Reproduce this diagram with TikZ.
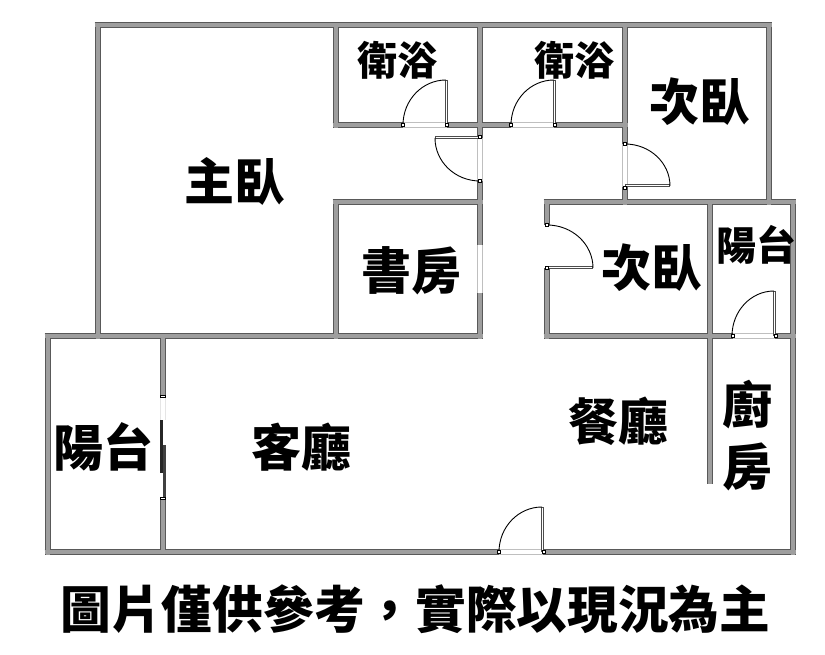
\documentclass[tikz,border=0pt]{standalone}
\usepackage{fontspec}
\newfontfamily\cjk{Noto Sans CJK TC Black}
\tikzset{
	wallout/.style={draw=black!65,line width=6.6pt,line cap=butt},
	wallin/.style={draw=black!38,line width=3.8pt,line cap=butt},
	leaf/.style={draw=black!70,line width=3pt},
	leafin/.style={draw=white,line width=1pt},
	swing/.style={draw=black,line width=0.9pt},
	sill/.style={draw=black!25,line width=0.6pt},
	jamb/.style={draw=black,fill=white,line width=0.6pt},
	roomname/.style={font=\cjk\fontsize{#1}{#1}\selectfont,inner sep=0pt},
}
\begin{document}
\begin{tikzpicture}[x=1pt,y=-1pt,line join=miter]
	\useasboundingbox (0,0) rectangle (825,655);
	\fill [white] (0,0) rectangle (825,655);
	\def\walls{
		(94.7,25)--(772.3,25) (98,25)--(98,339) (336,25)--(336,128.3) (769,25)--(769,205)
		(332.7,125)--(403,125) (447,125)--(511,125) (554,125)--(628,125)
		(480,25)--(480,138) (480,181)--(480,245) (480,293)--(480,339)
		(625,25)--(625,144) (625,187)--(625,205)
		(332.7,202)--(483,202) (336,202)--(336,339)
		(543.7,202)--(796.3,202) (547,202)--(547,225) (547,268)--(547,339.3)
		(543.7,336)--(733,336) (775,336)--(796.3,336)
		(710,202)--(710,484) (793,202)--(793,555.3)
		(44.7,336)--(483,336) (48,336)--(48,555.3)
		(163,336)--(163,395) (163,498)--(163,552)
		(44.7,552)--(499,552) (543,552)--(796.3,552)
	}
	\draw [wallout] \walls;
	\draw [wallin] \walls;
	% openings
	\draw [sill] (403,122.5)--(447,122.5) (403,127.5)--(447,127.5) (511,122.5)--(554,122.5) (511,127.5)--(554,127.5);
	\draw [sill] (477.5,138)--(477.5,181) (482.5,138)--(482.5,181) (622.5,144)--(622.5,187) (627.5,144)--(627.5,187);
	\draw [sill] (477.5,245)--(477.5,293) (482.5,245)--(482.5,293) (733,333.5)--(775,333.5) (733,338.5)--(775,338.5);
	\draw [sill] (499,549.5)--(543,549.5) (499,554.5)--(543,554.5);
	\draw [sill,draw=black!10] (160.5,395)--(160.5,420) (165.5,395)--(165.5,420);
	% doors
	\draw [leaf] (446,80)--(446,125) (554,80)--(554,125) (435,138)--(480,138) (625,186)--(670,186) (547,268)--(593,268) (774,291)--(774,336) (542,507)--(542,552);
	\draw [leafin] (446,81)--(446,124) (554,81)--(554,124) (436,138)--(479,138) (626,186)--(669,186) (548,268)--(592,268) (774,292)--(774,335) (542,508)--(542,551);
	\draw [swing] (446,80) arc (90:180:43pt and 45pt) (554,80) arc (90:180:43pt and 45pt)
		(435,138) arc (180:270:45pt and 43pt) (625,144) arc (90:0:45pt and 42pt)
		(547,225) arc (90:0:46pt and 43pt) (774,291) arc (90:180:42pt and 45pt) (542,507) arc (90:180:43pt and 45pt);
	\foreach \x/\y in {403/125,447/125,511/125,555/125,480/137,480/181,625/144,625/188,547/225,547/268,733/336,776/336,499/552,544/552}
		\draw [jamb] (\x-1.5,\y-1.5) rectangle (\x+1.5,\y+1.5);
	% sliding window
	\draw [draw=black!85,line width=3pt] (161.5,420)--(161.5,473);
	\draw [draw=black!75,line width=3.6pt] (164.5,445)--(164.5,497);
	\draw [jamb] (160.5,395.5) rectangle (165.5,397.5) (160.5,497) rectangle (165.5,499.5);
	% labels
	\node [roomname=50] (master) at (234.5,181) {主臥};
	\node [roomname=40] (bathA) at (397,60) {衛浴};
	\node [roomname=40] (bathB) at (574,60) {衛浴};
	\node [roomname=50] (bedA) at (699.5,102) {次臥};
	\node [roomname=50] (study) at (411,271) {書房};
	\node [roomname=50] (bedB) at (651.5,268) {次臥};
	\node [roomname=40] (balconyA) at (756.5,245) {陽台};
	\node [roomname=50] (balconyB) at (103,447) {陽台};
	\node [roomname=50] (living) at (301,447) {客廳};
	\node [roomname=50] (dining) at (618,421) {餐廳};
	\node [roomname=50] (kitchenA) at (747,405) {廚};
	\node [roomname=50] (kitchenB) at (747,467) {房};
	\node [roomname=50.7] (note) at (415.5,609) {圖片僅供參考，實際以現況為主};
\end{tikzpicture}
\end{document}
